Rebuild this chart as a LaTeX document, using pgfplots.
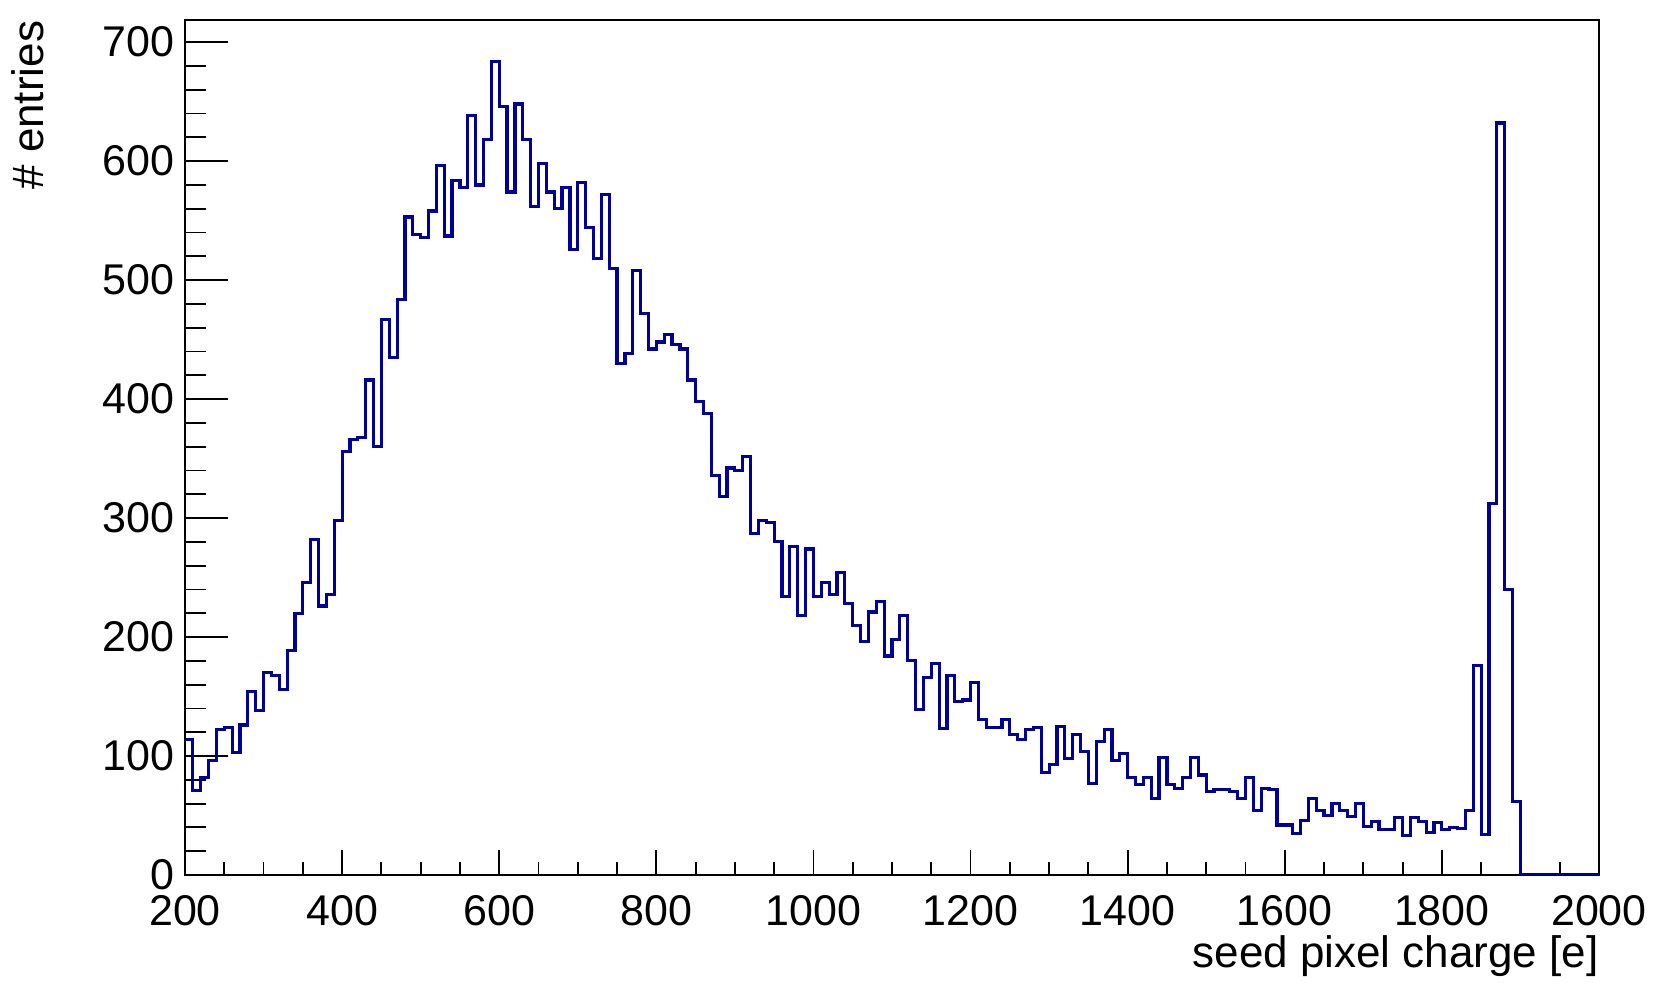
\documentclass[border=0pt]{standalone}
\usepackage{pgfplots}
\pgfplotsset{compat=1.18}
\usepackage{fontspec}
\setmainfont{Liberation Sans}
\definecolor{hist}{RGB}{0,0,153}
\begin{document}
\begin{tikzpicture}
\path[use as bounding box] (-92.5pt,-54pt) rectangle (743pt,437.5pt);
\begin{axis}[
 at={(0,0)}, anchor=south west,
 scale only axis, width=707pt, height=427.25pt,
 xmin=200, xmax=2000, ymin=0, ymax=718.2,
 axis line style={line width=1pt},
 tick align=inside, xtick pos=bottom, ytick pos=left,
 xtick={200,400,...,2000}, minor x tick num=3,
 ytick={0,100,...,700}, minor y tick num=4,
 major tick length=21.5pt, minor tick length=10.5pt,
 xtick style={/pgfplots/major tick length=12.5pt,/pgfplots/minor tick length=6.25pt, line width=0.9pt, black},
 ytick style={line width=0.9pt, black},
 tick label style={font=\fontsize{21.5}{24}\selectfont},
 /pgf/number format/assume math mode=true,
 /pgf/number format/1000 sep={},
 xticklabel style={anchor=north, inner sep=0pt, yshift=-10pt},
 yticklabel style={anchor=east, inner sep=0pt, xshift=-5pt},
 xlabel={seed pixel charge [e]},
 ylabel={\# entries},
 label style={font=\fontsize{22}{26}\selectfont},
 xlabel style={at={(axis description cs:1,-0.1088)}, anchor=base east, inner sep=0pt},
 ylabel style={at={(axis description cs:-0.1004,1)}, anchor=base east, inner sep=0pt},
]
\addplot[const plot mark left, no marks, color=hist, line width=1.6pt] coordinates {
(200,114) (210,71) (220,82) (230,96) (240,122) (250,124) (260,103) (270,126) (280,154) (290,138)
(300,170) (310,168) (320,156) (330,189) (340,220) (350,246) (360,282) (370,226) (380,236) (390,298)
(400,356) (410,366) (420,368) (430,416) (440,360) (450,467) (460,435) (470,484) (480,553) (490,538)
(500,536) (510,558) (520,596) (530,537) (540,584) (550,578) (560,638) (570,580) (580,618) (590,684)
(600,646) (610,574) (620,648) (630,618) (640,562) (650,598) (660,574) (670,560) (680,578) (690,526)
(700,582) (710,544) (720,518) (730,572) (740,510) (750,430) (760,438) (770,508) (780,472) (790,442)
(800,448) (810,454) (820,446) (830,442) (840,416) (850,398) (860,388) (870,336) (880,318) (890,342)
(900,340) (910,352) (920,287) (930,298) (940,296) (950,280) (960,234) (970,276) (980,218) (990,274)
(1000,234) (1010,246) (1020,236) (1030,254) (1040,228) (1050,210) (1060,196) (1070,221) (1080,230) (1090,184)
(1100,198) (1110,218) (1120,180) (1130,139) (1140,166) (1150,178) (1160,123) (1170,168) (1180,146) (1190,147)
(1200,162) (1210,131) (1220,124) (1230,124) (1240,131) (1250,118) (1260,114) (1270,122) (1280,124) (1290,86)
(1300,93) (1310,125) (1320,98) (1330,118) (1340,104) (1350,77) (1360,112) (1370,122) (1380,96) (1390,102)
(1400,82) (1410,76) (1420,82) (1430,64) (1440,99) (1450,76) (1460,73) (1470,82) (1480,99) (1490,84)
(1500,70) (1510,72) (1520,72) (1530,70) (1540,64) (1550,82) (1560,54) (1570,73) (1580,72) (1590,42)
(1600,42) (1610,35) (1620,46) (1630,64) (1640,54) (1650,50) (1660,60) (1670,54) (1680,49) (1690,60)
(1700,41) (1710,45) (1720,38) (1730,38) (1740,48) (1750,33) (1760,48) (1770,45) (1780,36) (1790,44)
(1800,38) (1810,40) (1820,39) (1830,54) (1840,176) (1850,34) (1860,312) (1870,632) (1880,240) (1890,62)
(1900,0) (2000,0)
};
\end{axis}
\end{tikzpicture}
\end{document}
